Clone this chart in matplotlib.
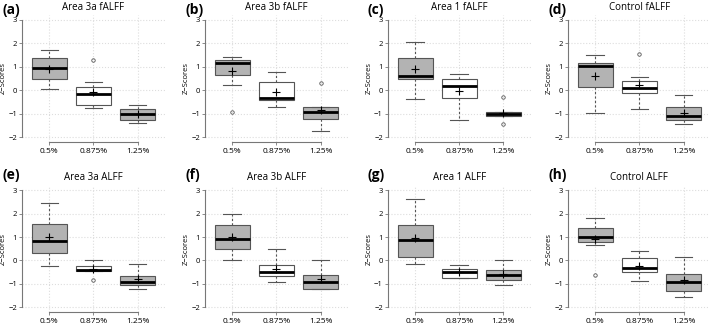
import numpy as np
import matplotlib.pyplot as plt

plt.rcParams['font.family'] = ['Open Sans', 'DejaVu Sans']

groups = ["0.5%", "0.875%", "1.25%"]
letters = ["(a)", "(b)", "(c)", "(d)", "(e)", "(f)", "(g)", "(h)"]
titles = ["Area 3a fALFF", "Area 3b fALFF", "Area 1 fALFF", "Control fALFF",
          "Area 3a ALFF", "Area 3b ALFF", "Area 1 ALFF", "Control ALFF"]

# per panel, per group (0.5%, 0.875%, 1.25%)
whislo = [[0.03, -0.78, -1.41], [0.21, -0.73, -1.73], [-0.36, -1.26, -1.09], [-0.99, -0.80, -1.46],
          [-0.24, -0.45, -1.20], [0.03, -0.91, -1.23], [-0.16, -0.74, -1.06], [0.66, -0.89, -1.57]]
q1 = [[0.47, -0.62, -1.26], [0.64, -0.41, -1.23], [0.46, -0.34, -1.09], [0.14, -0.10, -1.26],
      [0.34, -0.43, -1.03], [0.51, -0.67, -1.20], [0.16, -0.73, -0.83], [0.79, -0.51, -1.31]]
med = [[0.94, -0.15, -1.00], [1.17, -0.33, -0.94], [0.61, 0.16, -1.03], [1.03, 0.11, -1.09],
       [0.84, -0.39, -0.90], [0.91, -0.49, -0.91], [0.89, -0.51, -0.60], [1.00, -0.30, -0.90]]
q3 = [[1.39, 0.14, -0.80], [1.31, 0.37, -0.71], [1.36, 0.46, -0.93], [1.17, 0.39, -0.71],
      [1.57, -0.23, -0.66], [1.53, -0.19, -0.61], [1.51, -0.37, -0.39], [1.40, 0.11, -0.59]]
whishi = [[1.71, 0.33, -0.64], [1.43, 0.77, -0.71], [2.04, 0.69, -0.93], [1.49, 0.57, -0.20],
          [2.44, 0.04, -0.14], [2.00, 0.51, 0.01], [2.64, -0.21, 0.04], [1.80, 0.41, 0.17]]
means = [[0.92, -0.09, -1.00], [0.81, -0.06, -0.86], [0.89, -0.03, -0.96], [0.60, 0.21, -0.97],
         [0.99, -0.36, -0.77], [1.00, -0.36, -0.77], [0.97, -0.51, -0.57], [0.93, -0.24, -0.83]]
fliers = [[[], [1.30], []], [[-0.94], [], [0.30]], [[], [], [-0.27, -1.46]], [[], [1.56], []],
          [[], [-0.83], []], [[], [], []], [[], [], []], [[-0.60], [], []]]

fills = ["#b3b3b3", "white", "#b3b3b3"]

fig = plt.figure(figsize=(7.09, 3.25), dpi=100)
lefts = [0.031, 0.289, 0.547, 0.801]
bottoms = [0.564, 0.040]
W, H = 0.2017, 0.389

for i in range(8):
    r, c = divmod(i, 4)
    ax = fig.add_axes([lefts[c], bottoms[r], W, H])
    stats = []
    for j in range(3):
        stats.append(dict(med=med[i][j], q1=q1[i][j], q3=q3[i][j],
                          whislo=whislo[i][j], whishi=whishi[i][j],
                          mean=means[i][j], fliers=np.array(fliers[i][j])))
    bp = ax.bxp(stats, positions=[1, 2, 3], widths=0.8, patch_artist=True,
                showmeans=True, manage_ticks=False,
                boxprops=dict(edgecolor="#555555", linewidth=0.8),
                medianprops=dict(color="black", linewidth=2.0),
                whiskerprops=dict(color="#555555", linewidth=0.8, linestyle=(0, (2, 2))),
                capprops=dict(color="#555555", linewidth=0.8),
                capwidths=0.4,
                meanprops=dict(marker="+", markeredgecolor="black", markersize=5.5,
                               markeredgewidth=0.8),
                flierprops=dict(marker="o", markersize=2.5, markerfacecolor="none",
                                markeredgecolor="#555555", markeredgewidth=0.6))
    for patch, fc in zip(bp["boxes"], fills):
        patch.set_facecolor(fc)
    for w in bp["whiskers"]:
        w.set_zorder(1)

    ax.set_xlim(0.38, 3.62)
    ax.set_ylim(-2.2, 3.2)
    ax.set_yticks([-2, -1, 0, 1, 2, 3])
    ax.set_yticklabels(["\u22122", "\u22121", "0", "1", "2", "3"])
    ax.set_xticks([1, 2, 3])
    ax.set_xticklabels(groups)
    ax.grid(True, color="#dddddd", linestyle=":", linewidth=0.8)
    ax.set_axisbelow(True)
    for s in ["top", "right"]:
        ax.spines[s].set_visible(False)
    ax.spines["left"].set_bounds(-2, 3)
    ax.spines["bottom"].set_bounds(1, 3)
    for s in ["left", "bottom"]:
        ax.spines[s].set_color("#777777")
        ax.spines[s].set_linewidth(0.8)
    ax.tick_params(length=2, width=0.6, color="#777777", labelsize=5.5, pad=1.5)
    ax.tick_params(axis="x", labelsize=6, pad=2.5)
    ax.set_ylabel("Z\u2212Scores", fontsize=5.5)
    ax.yaxis.set_label_coords(-0.105, 0.5)
    ax.set_title(titles[i], fontsize=7, pad=4)

    fx = lefts[c] - 0.031 + 0.003
    fy = 0.99 if r == 0 else 0.483
    fig.text(fx, fy, letters[i], fontsize=10, fontweight="bold", va="top", ha="left")

fig.savefig("out.png", dpi=100)
